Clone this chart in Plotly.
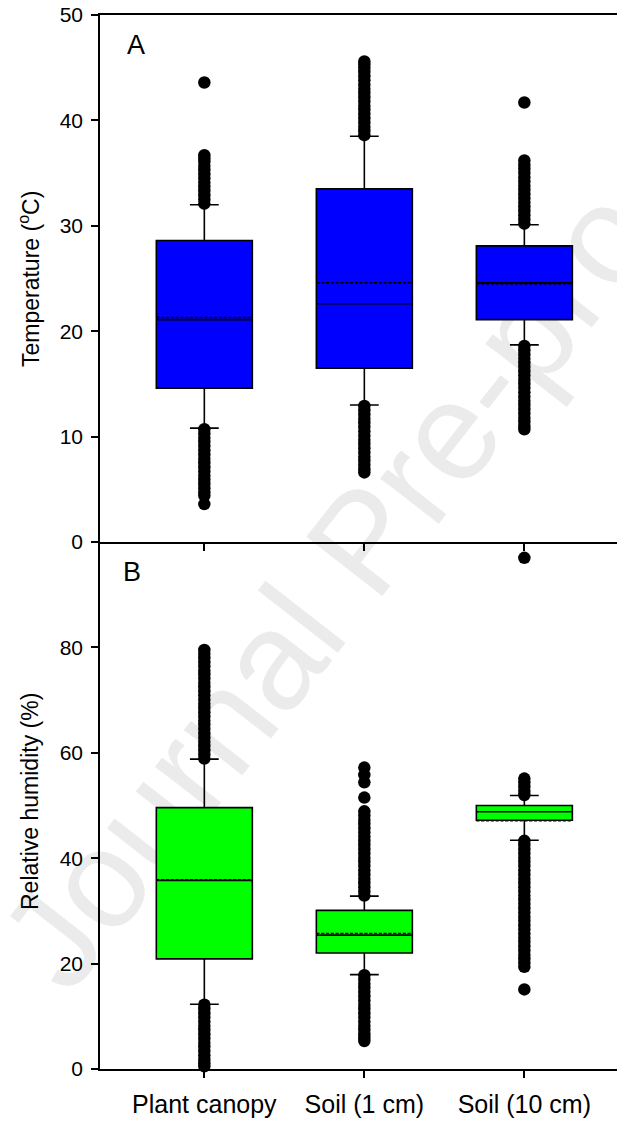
import plotly.graph_objects as go

categories = ["Plant canopy", "Soil (1 cm)", "Soil (10 cm)"]

# Panel A: temperature (°C)
temp_q1 = [14.6, 16.5, 21.1]
temp_median = [21.1, 22.6, 24.6]
temp_q3 = [28.6, 33.5, 28.1]
temp_mean = [21.3, 24.6, 24.5]
temp_lower = [10.8, 13.0, 18.7]
temp_upper = [32.0, 38.5, 30.1]

temp_out_canopy = [32.1, 32.5, 32.9, 33.3, 33.7, 34.1, 34.5, 34.9, 35.3, 35.7, 36.1, 36.4, 36.7, 43.6,
                   10.7, 10.3, 9.9, 9.5, 9.1, 8.7, 8.3, 7.9, 7.5, 7.1, 6.7, 6.3, 5.9, 5.5, 5.1, 4.7, 4.4, 3.6]
temp_out_soil1 = [38.6, 39.0, 39.4, 39.8, 40.2, 40.6, 41.0, 41.4, 41.8, 42.2, 42.6, 43.0, 43.4, 43.8,
                  44.2, 44.6, 45.0, 45.3, 45.6,
                  12.9, 12.5, 12.1, 11.7, 11.3, 10.9, 10.5, 10.1, 9.7, 9.3, 8.9, 8.5, 8.1, 7.7, 7.3, 6.9, 6.6]
temp_out_soil10 = [30.2, 30.6, 31.0, 31.4, 31.8, 32.2, 32.6, 33.0, 33.4, 33.8, 34.2, 34.6, 35.0, 35.4,
                   35.8, 36.2, 41.7,
                   18.6, 18.2, 17.8, 17.4, 17.0, 16.6, 16.2, 15.8, 15.4, 15.0, 14.6, 14.2, 13.8, 13.4,
                   13.0, 12.6, 12.2, 11.8, 11.4, 11.0, 10.7]

# Panel B: relative humidity (%)
rh_q1 = [20.9, 22.0, 47.2]
rh_median = [35.8, 25.4, 48.8]
rh_q3 = [49.6, 30.1, 50.0]
rh_mean = [35.9, 25.7, 47.1]
rh_lower = [12.3, 17.9, 43.4]
rh_upper = [58.8, 32.8, 51.9]

rh_out_canopy = [58.9, 59.7, 60.5, 61.3, 62.1, 62.9, 63.7, 64.5, 65.3, 66.1, 66.9, 67.7, 68.5, 69.3,
                 70.1, 70.9, 71.7, 72.5, 73.3, 74.1, 74.9, 75.6, 76.4, 77.2, 78.0, 78.8, 79.5,
                 12.2, 11.4, 10.6, 9.8, 9.0, 8.2, 7.4, 6.6, 5.8, 5.0, 4.2, 3.4, 2.6, 1.8, 1.1, 0.5]
rh_out_soil1 = [32.9, 33.7, 34.5, 35.3, 36.1, 36.9, 37.7, 38.5, 39.3, 40.1, 40.9, 41.7, 42.5, 43.3,
                44.1, 44.9, 45.7, 46.5, 47.3, 48.1, 48.9, 51.5, 54.4, 55.8, 57.2,
                17.8, 17.0, 16.2, 15.4, 14.6, 13.8, 13.0, 12.2, 11.4, 10.6, 9.8, 9.0, 8.2, 7.4,
                6.6, 5.9, 5.3]
rh_out_soil10 = [52.0, 52.8, 53.6, 54.4, 55.1, 97.0,
                 43.3, 42.5, 41.7, 40.9, 40.1, 39.3, 38.5, 37.7, 36.9, 36.1, 35.3, 34.5, 33.7, 32.9,
                 32.1, 31.3, 30.5, 29.7, 28.9, 28.1, 27.3, 26.5, 25.7, 24.9, 24.1, 23.3, 22.5, 21.7,
                 20.9, 20.1, 19.4, 15.1]

temp_outliers = [temp_out_canopy, temp_out_soil1, temp_out_soil10]
rh_outliers = [rh_out_canopy, rh_out_soil1, rh_out_soil10]

FONT = "Liberation Sans, Arial, sans-serif"

fig = go.Figure()

fig.add_trace(go.Box(
    x=categories, q1=temp_q1, median=temp_median, q3=temp_q3, mean=temp_mean,
    lowerfence=temp_lower, upperfence=temp_upper, boxmean=True, boxpoints=False,
    fillcolor="#0000FF", line=dict(color="black", width=1.6), width=0.6, whiskerwidth=0.3,
    xaxis="x", yaxis="y", showlegend=False, hoverinfo="skip"))

fig.add_trace(go.Box(
    x=categories, q1=rh_q1, median=rh_median, q3=rh_q3, mean=rh_mean,
    lowerfence=rh_lower, upperfence=rh_upper, boxmean=True, boxpoints=False,
    fillcolor="#00FF00", line=dict(color="black", width=1.6), width=0.6, whiskerwidth=0.3,
    xaxis="x2", yaxis="y2", showlegend=False, hoverinfo="skip"))

for cat, vals in zip(categories, temp_outliers):
    fig.add_trace(go.Scatter(x=[cat] * len(vals), y=vals, mode="markers",
                             marker=dict(size=12.5, color="black"), cliponaxis=False,
                             xaxis="x", yaxis="y", showlegend=False, hoverinfo="skip"))
for cat, vals in zip(categories, rh_outliers):
    fig.add_trace(go.Scatter(x=[cat] * len(vals), y=vals, mode="markers",
                             marker=dict(size=12.5, color="black"), cliponaxis=False,
                             xaxis="x2", yaxis="y2", showlegend=False, hoverinfo="skip"))

xr = [-0.652, 2.579]
axis_common = dict(showline=True, linecolor="black", linewidth=1.5, ticks="outside",
                   ticklen=7, tickwidth=1.5, tickcolor="black", showgrid=False, zeroline=False)

fig.update_layout(
    width=617, height=1121,
    margin=dict(l=100, r=0, t=15, b=52),
    paper_bgcolor="white", plot_bgcolor="white",
    font=dict(family=FONT, color="black"),
    xaxis=dict(domain=[0, 1], anchor="y", type="category", categoryorder="array",
               categoryarray=categories, range=xr, showticklabels=False, mirror=True,
               **axis_common),
    yaxis=dict(domain=[0.5, 1], anchor="x", range=[0, 50], tickvals=[0, 10, 20, 30, 40, 50],
               tickfont=dict(size=21), ticklabelstandoff=4, **axis_common),
    xaxis2=dict(domain=[0, 1], anchor="y2", type="category", categoryorder="array",
                categoryarray=categories, range=xr, tickfont=dict(size=25),
                ticklabelstandoff=5, **axis_common),
    yaxis2=dict(domain=[0, 0.5], anchor="x2", range=[0, 100], tickvals=[0, 20, 40, 60, 80],
                tickfont=dict(size=21), ticklabelstandoff=4, **axis_common),
)

def px_x(p):
    return (p - 100) / 517.0

def px_y(p):
    return (1069 - p) / 1054.0

fig.add_annotation(text="A", xref="paper", yref="paper", x=px_x(125), y=px_y(45),
                   xanchor="left", yanchor="middle", showarrow=False, font=dict(size=27))
fig.add_annotation(text="B", xref="paper", yref="paper", x=px_x(121), y=px_y(571.5),
                   xanchor="left", yanchor="middle", showarrow=False, font=dict(size=27))
fig.add_annotation(text="Temperature (<sup>o</sup>C)", xref="paper", yref="paper",
                   x=px_x(29), y=px_y(279), textangle=-90, xanchor="center", yanchor="middle",
                   showarrow=False, font=dict(size=23))
fig.add_annotation(text="Relative humidity (%)", xref="paper", yref="paper",
                   x=px_x(29.5), y=px_y(801.5), textangle=-90, xanchor="center", yanchor="middle",
                   showarrow=False, font=dict(size=23))

# faint watermark behind the plot
fig.add_shape(type="line", xref="paper", yref="paper", layer="below",
              x0=px_x(20), y0=px_y(960), x1=px_x(686), y1=px_y(107),
              line=dict(width=0, color="rgba(0,0,0,0)"),
              label=dict(text="Journal Pre-proof", textposition="middle", yanchor="middle",
                         font=dict(size=140, color="#ebebeb", family=FONT)))

fig.write_html("out.html")
